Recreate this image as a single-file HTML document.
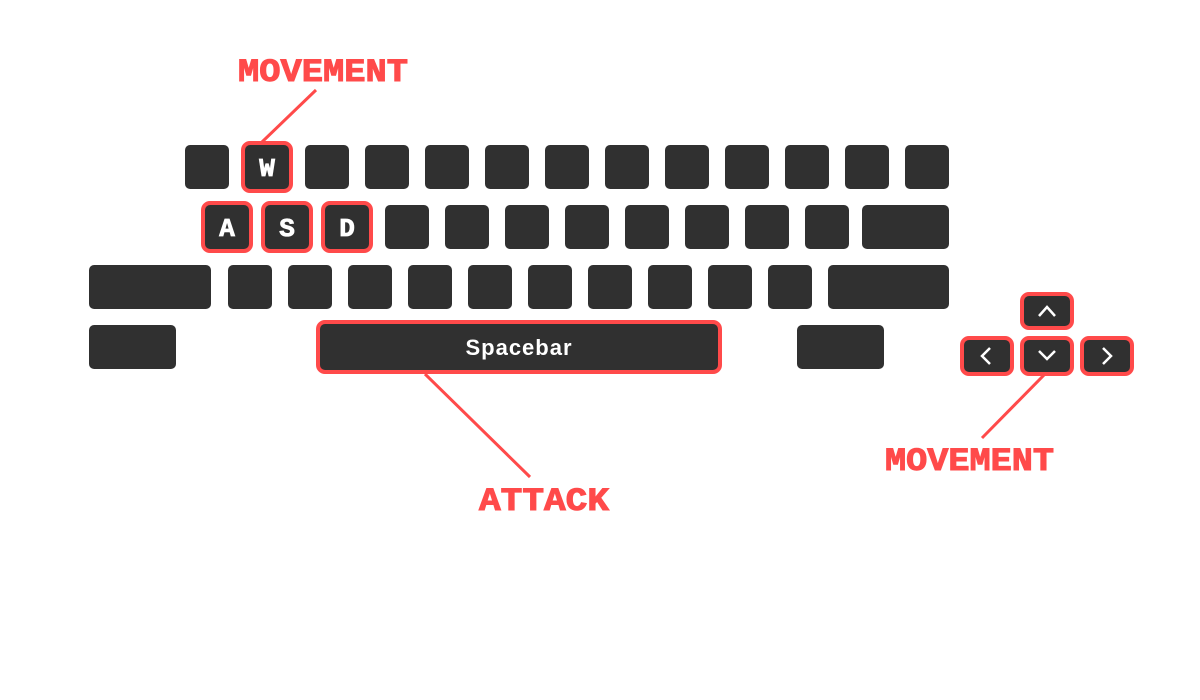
<!DOCTYPE html>
<html><head><meta charset="utf-8"><style>
html,body{margin:0;padding:0;background:#fff;width:1200px;height:700px;overflow:hidden}
svg{display:block}
.k{fill:#303030}
.hl{fill:#303030;stroke:#ff4a4a;stroke-width:4}
.lbl{fill:#ff4a4a;stroke:#ff4a4a;stroke-width:1;font-family:"Liberation Mono",monospace;font-weight:bold;font-size:32px}
.kt{fill:#fff;stroke:#fff;stroke-width:0.8;font-family:"Liberation Mono",monospace;font-weight:bold;font-size:26px}
</style></head><body>
<svg width="1200" height="700" viewBox="0 0 1200 700">
<g id="keys"></g>
<line x1="316" y1="90" x2="262" y2="142" stroke="#ff4a4a" stroke-width="3"/>
<line x1="425" y1="374" x2="530" y2="477" stroke="#ff4a4a" stroke-width="3"/>
<line x1="1045" y1="374" x2="982" y2="438" stroke="#ff4a4a" stroke-width="3"/>
<text class="lbl" x="238" y="81" textLength="170" lengthAdjust="spacingAndGlyphs">MOVEMENT</text>
<text class="lbl" x="479" y="510" textLength="130" lengthAdjust="spacingAndGlyphs">ATTACK</text>
<text class="lbl" x="885" y="470" textLength="169" lengthAdjust="spacingAndGlyphs">MOVEMENT</text>
</svg>
<script>
const NS='http://www.w3.org/2000/svg';
const g=document.getElementById('keys');
function key(x,y,w,h,hl,label,name,fs){
  const r=document.createElementNS(NS,'rect');
  r.setAttribute('x',x);r.setAttribute('y',y);r.setAttribute('width',w);r.setAttribute('height',h);
  r.setAttribute('rx',hl?7:5);
  r.setAttribute('class',hl?'hl':'k');
  
  
  g.appendChild(r);
  if(label){
    const t=document.createElementNS(NS,'text');
    t.setAttribute('x',x+w/2);t.setAttribute('y',y+h/2+(fs?fs*0.36:9));
    t.setAttribute('text-anchor','middle');t.setAttribute('class','kt');
    if(fs)t.setAttribute('style','font-size:'+fs+'px;font-weight:bold;stroke-width:0;font-family:"Liberation Sans",sans-serif;letter-spacing:1px');
    t.textContent=label;
    
    
    g.appendChild(t);
  }
}
for(let i=0;i<13;i++){ if(i===1) key(243,143,48,48,true,'W','key-w'); else key(185+60*i,145,44,44,false,'','key'); }
const r2=['A','S','D'];
for(let i=0;i<11;i++){ if(i<3) key(203+60*i,203,48,48,true,r2[i],'key-'+r2[i].toLowerCase()); else key(205+60*i,205,44,44,false,'','key'); }
key(862,205,87,44,false,'','key-backspace');
key(89,265,122,44,false,'','key-shift-left');
for(let i=0;i<10;i++) key(228+60*i,265,44,44,false,'','key');
key(828,265,121,44,false,'','key-shift-right');
key(89,325,87,44,false,'','key-ctrl-left');
key(318,322,402,50,true,'Spacebar','key-spacebar',22);
key(797,325,87,44,false,'','key-ctrl-right');
key(1022,294,50,34,true,'','key-up');
key(962,338,50,36,true,'','key-left');
key(1022,338,50,36,true,'','key-down');
key(1082,338,50,36,true,'','key-right');
const arrows=[['M1039 316 L1047 307 L1055 316','arrow-up'],['M990 348 L982 356 L990 364','arrow-left'],['M1039 351 L1047 359 L1055 351','arrow-down'],['M1103 348 L1111 356 L1103 364','arrow-right']];
arrows.forEach(a=>{const p=document.createElementNS(NS,'path');p.setAttribute('d',a[0]);p.setAttribute('stroke','#fff');p.setAttribute('stroke-width','2.5');p.setAttribute('fill','none');


g.appendChild(p);});
</script>
</body></html>
